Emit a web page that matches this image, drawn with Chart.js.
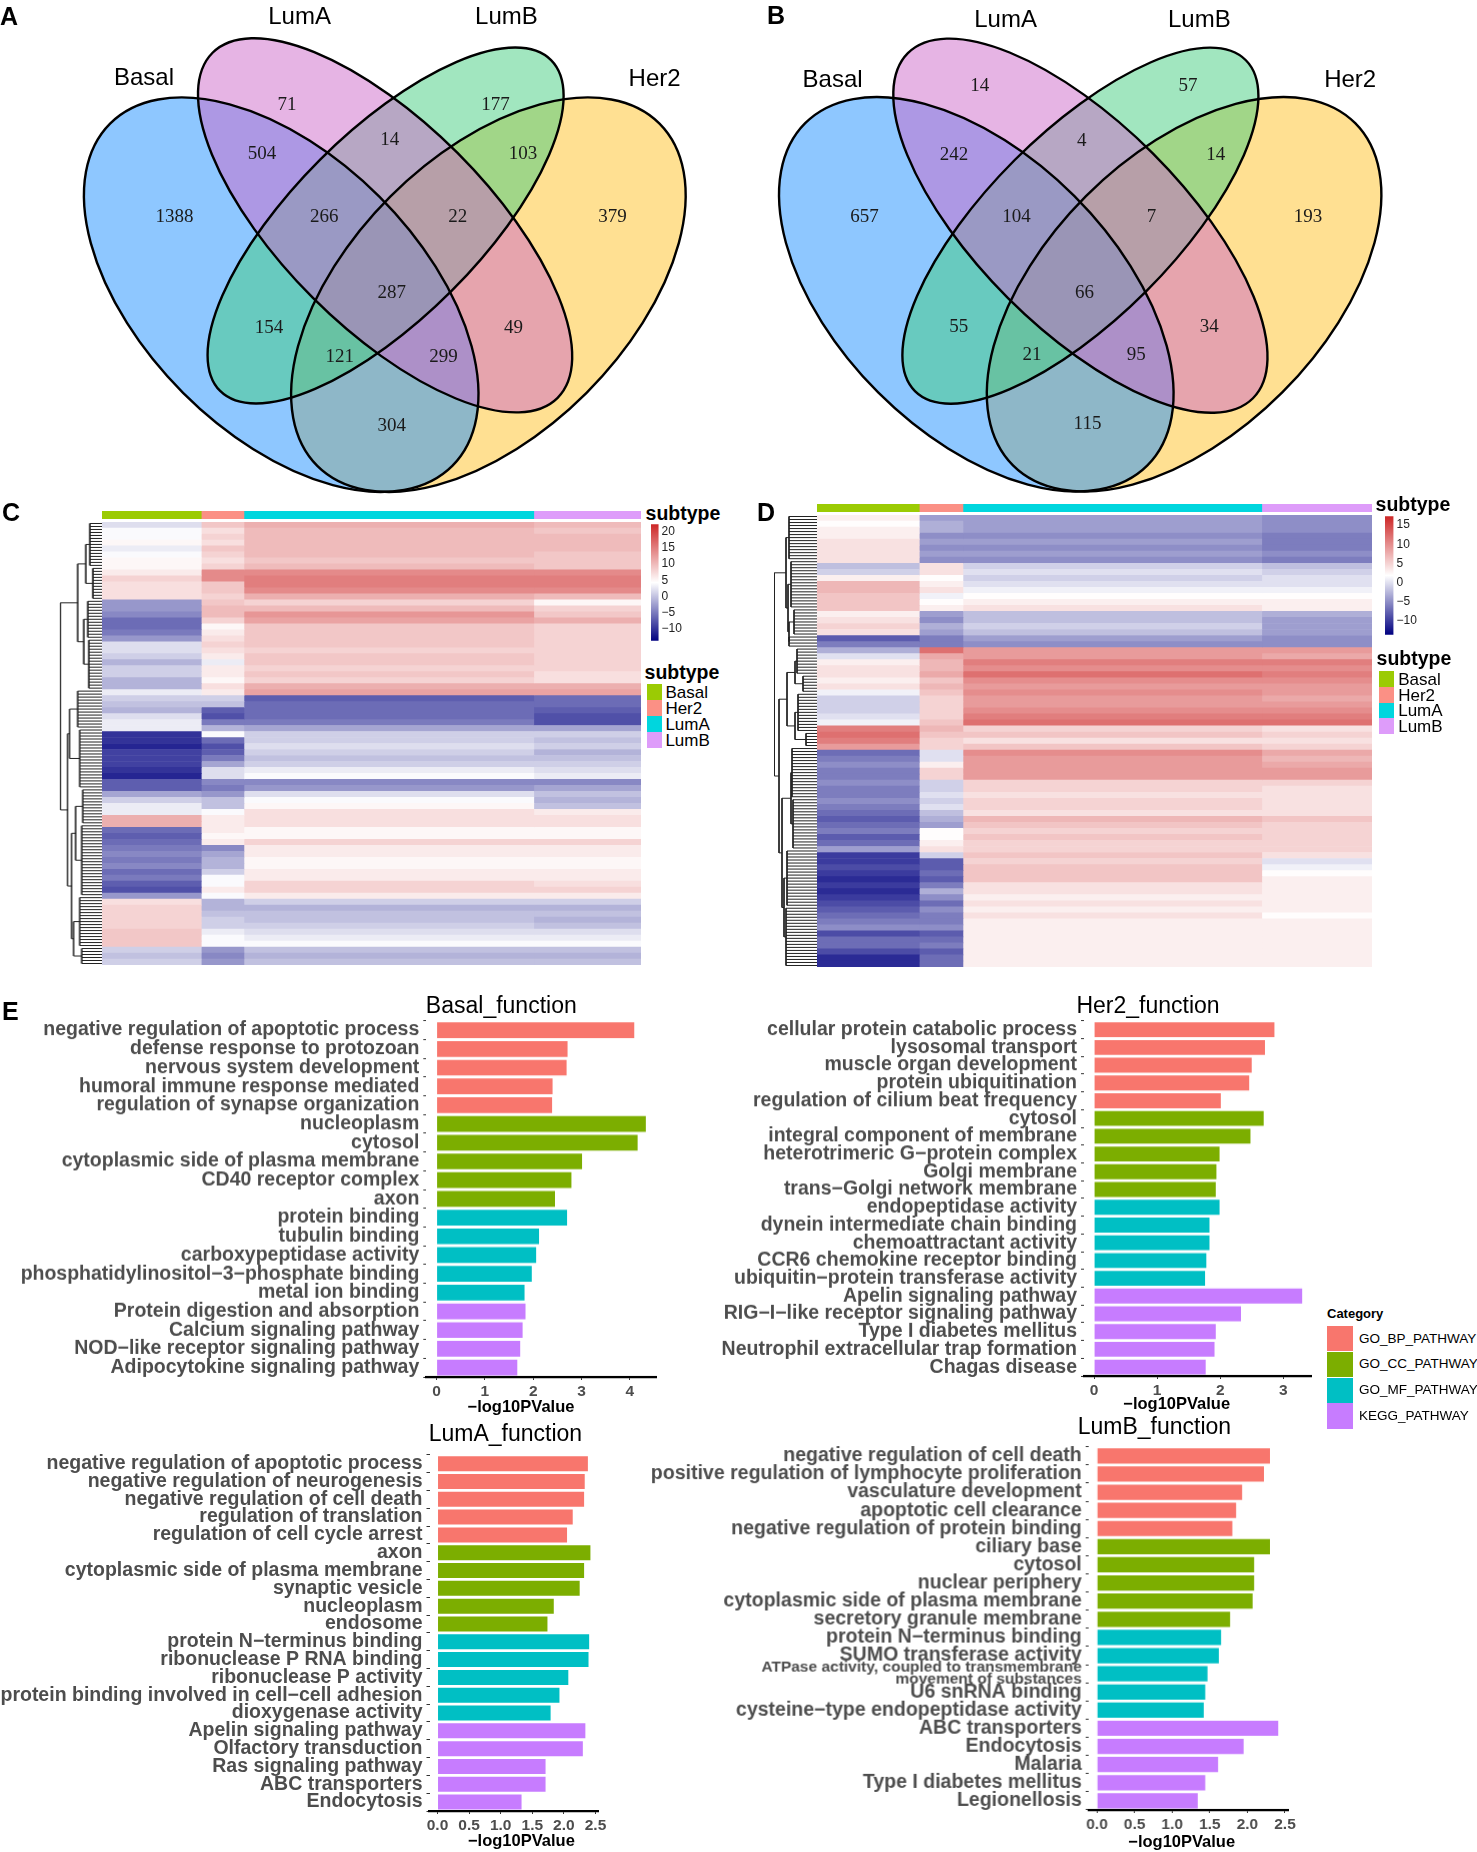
<!DOCTYPE html>
<html>
<head>
<meta charset="utf-8">
<title>Subtype venn, heatmap and function panels</title>
<script src="https://cdn.jsdelivr.net/npm/chart.js@4"></script>
<style>
  html, body { margin: 0; background: #fff; }
  #page { position: relative; width: 1477px; height: 1852px; overflow: hidden; font-family: "Liberation Sans", Arial, sans-serif; }
  #page canvas { position: absolute; }
  .txt { position: absolute; white-space: pre; line-height: 1; }
  .swatch { position: absolute; }
</style>
</head>
<body>
<div id="page"></div>
<script>
// ---- venn data
const vennSets = ['Basal', 'LumA', 'LumB', 'Her2'];
const vennA = [1388, 71, 504, 14, 177, 103, 266, 22, 379, 287, 154, 49, 121, 299, 304];
const vennB = [657, 14, 242, 4, 57, 14, 104, 7, 193, 66, 55, 34, 21, 95, 115];

// ---- heatmap data: mean expression per row band (the fine speckle is averaged out)
const samplesC = [100, 43, 292, 108];
const heatC_Basal = [2,4,4,5,3,4,5,5,6,8,7,7,7,-3,-3,-4,-6,-6,-5,-3,2,2,1,-1,1,1,-1,-1,3,1,0,-1,2,3,3,-10,-10,-11,-9,-9,-9,-10,-11,-7,-7,-2,1,3,3,11,11,-6,-7,-6,-5,-4,-5,-4,-6,-5,-7,-8,-3,7,8,8,8,8,9,9,9,1,0,1];
const heatC_Her2 = [9,7,8,7,9,8,7,8,14,14,9,9,8,9,10,10,8,5,6,7,8,7,6,3,6,6,5,7,6,1,0,-7,-8,-5,-1,4,-6,-8,-7,-5,-2,2,2,-4,-5,-3,0,0,4,6,6,6,5,6,-4,-2,-1,-1,1,4,4,6,4,-1,-1,0,1,1,3,4,4,-3,-4,-3];
const heatC_LumA = [11,10,10,10,10,10,9,10,14,15,15,14,11,8,10,13,12,9,9,9,9,8,9,9,8,9,8,11,12,-7,-6,-6,-6,-5,-2,1,1,2,1,0,1,3,4,-4,-3,2,4,5,7,7,7,5,5,8,6,6,5,5,6,6,8,8,6,1,-1,0,0,1,2,3,4,0,-1,0];
const heatC_LumB = [10,9,10,10,10,9,9,9,14,15,15,14,10,5,8,9,11,8,8,8,8,8,8,8,8,7,7,11,12,-6,-6,-7,-8,-8,-2,1,0,1,-1,0,1,2,3,-4,-2,0,-1,0,6,7,7,5,5,8,6,6,5,5,6,6,7,8,6,1,-1,0,-1,0,2,3,4,0,-1,0];

const samplesD = [103, 44, 301, 111];
const heatD_Basal = [3,2,3,3,4,4,4,4,-2,-1,3,7,7,6,6,6,3,4,5,4,-8,-6,-3,0,3,4,4,3,4,1,-1,-1,-1,0,1,11,12,11,9,-7,-6,-5,-6,-6,-5,-6,-6,-5,-6,-7,-8,-7,-6,-8,-7,-4,-10,-10,-9,-10,-11,-10,-11,-10,-9,-8,-7,-6,-5,-9,-7,-7,-9,-11,-11];
const heatD_Her2 = [-4,-3,-3,-5,-4,-5,-4,-5,4,4,2,3,4,1,2,3,-4,-5,-3,-4,-6,-6,12,8,7,7,8,6,7,6,5,5,5,5,6,7,6,5,5,0,0,3,5,5,-1,-1,0,-1,0,-2,-3,-4,2,2,3,4,-1,-8,-8,-7,-8,-6,-3,-5,-7,-5,-6,-6,-5,-8,-7,-6,-8,-7,-7];
const heatD_LumA = [-4,-4,-4,-5,-4,-5,-4,-5,-1,0,-1,0,1,2,3,4,-2,-2,-1,-2,-4,-5,9,9,11,10,12,10,9,10,9,9,10,11,12,5,6,4,6,10,9,9,9,9,5,5,4,5,5,4,7,6,5,6,5,5,6,5,6,6,6,4,4,3,4,3,4,3,3,3,3,3,3,3,3];
const heatD_LumB = [-5,-5,-5,-6,-6,-6,-5,-6,-2,-1,0,0,1,2,3,3,-3,-4,-4,-4,-5,-5,9,8,11,10,11,10,9,9,8,9,10,11,12,4,5,4,5,8,7,8,9,9,5,4,4,4,4,4,6,5,5,5,5,5,4,0,1,2,3,3,3,3,3,3,2,3,3,3,3,3,3,3,3];

const subtypes = ['Basal', 'Her2', 'LumA', 'LumB'];
const subtypeColors = ['#9BCB04', '#FB9085', '#00D6DE', '#DE9CFA'];

// colour bar ranges and ticks
const barTicksC = [-10, -5, 0, 5, 10, 15, 20];
const barTicksD = [-10, -5, 0, 5, 10, 15];

// dendrograms, [height, left, right] for a merge and [height, leaves] for a group of leaves
const treeC = [41,
  [24, [16, [12, 15], [9, 11]], [18, [14, 13], [13, 17]]],
  [34, [32, [24, 13], [22, 20]], [30, [26, [19, 12], [20, 24]], [28, [22, 17], [20, 6]]]]];
const treeD = [42.5,
  [31, [28, 15], [29, [26, 16], [28, [23, 9], [28, 4]]]],
  [38, [30, [22, [20, 9], [14, 6]], [22, [19, 13], [11, 5]]],
       [35, [26, [25, 17], [24, 17]], [33, [30, 19], [31, 20]]]]];

// ---- function panels
const categoryNames = ['GO_BP_PATHWAY', 'GO_CC_PATHWAY', 'GO_MF_PATHWAY', 'KEGG_PATHWAY'];
const categoryColors = ['#F8766D', '#7CAE00', '#00BFC4', '#C77CFF'];

const basalLabels = ['negative regulation of apoptotic process', 'defense response to protozoan', 'nervous system development', 'humoral immune response mediated', 'regulation of synapse organization', 'nucleoplasm', 'cytosol', 'cytoplasmic side of plasma membrane', 'CD40 receptor complex', 'axon', 'protein binding', 'tubulin binding', 'carboxypeptidase activity', 'phosphatidylinositol−3−phosphate binding', 'metal ion binding', 'Protein digestion and absorption', 'Calcium signaling pathway', 'NOD−like receptor signaling pathway', 'Adipocytokine signaling pathway'];
const basalValues = [4.09, 2.71, 2.69, 2.40, 2.39, 4.33, 4.16, 3.01, 2.79, 2.45, 2.70, 2.12, 2.06, 1.97, 1.82, 1.84, 1.78, 1.73, 1.67];
const basalGroups = [5, 5, 5, 4];
const basalTicks = [0, 1, 2, 3, 4];

const her2Labels = ['cellular protein catabolic process', 'lysosomal transport', 'muscle organ development', 'protein ubiquitination', 'regulation of cilium beat frequency', 'cytosol', 'integral component of membrane', 'heterotrimeric G−protein complex', 'Golgi membrane', 'trans−Golgi network membrane', 'endopeptidase activity', 'dynein intermediate chain binding', 'chemoattractant activity', 'CCR6 chemokine receptor binding', 'ubiquitin−protein transferase activity', 'Apelin signaling pathway', 'RIG−I−like receptor signaling pathway', 'Type I diabetes mellitus', 'Neutrophil extracellular trap formation', 'Chagas disease'];
const her2Values = [2.86, 2.71, 2.50, 2.46, 2.01, 2.69, 2.48, 1.99, 1.94, 1.93, 1.99, 1.83, 1.83, 1.78, 1.76, 3.30, 2.33, 1.93, 1.91, 1.77];
const her2Groups = [5, 5, 5, 5];
const her2Ticks = [0, 1, 2, 3];

const lumALabels = ['negative regulation of apoptotic process', 'negative regulation of neurogenesis', 'negative regulation of cell death', 'regulation of translation', 'regulation of cell cycle arrest', 'axon', 'cytoplasmic side of plasma membrane', 'synaptic vesicle', 'nucleoplasm', 'endosome', 'protein N−terminus binding', 'ribonuclease P RNA binding', 'ribonuclease P activity', 'protein binding involved in cell−cell adhesion', 'dioxygenase activity', 'Apelin signaling pathway', 'Olfactory transduction', 'Ras signaling pathway', 'ABC transporters', 'Endocytosis'];
const lumAValues = [2.38, 2.33, 2.32, 2.14, 2.05, 2.42, 2.32, 2.25, 1.84, 1.74, 2.40, 2.39, 2.07, 1.93, 1.79, 2.34, 2.30, 1.71, 1.71, 1.33];
const lumAGroups = [5, 5, 5, 5];
const lumATicks = [0, 0.5, 1, 1.5, 2, 2.5];

const lumBLabels = ['negative regulation of cell death', 'positive regulation of lymphocyte proliferation', 'vasculature development', 'apoptotic cell clearance', 'negative regulation of protein binding', 'ciliary base', 'cytosol', 'nuclear periphery', 'cytoplasmic side of plasma membrane', 'secretory granule membrane', 'protein N−terminus binding', 'SUMO transferase activity', ['ATPase activity, coupled to transmembrane', 'movement of substances'], 'U6 snRNA binding', 'cysteine−type endopeptidase activity', 'ABC transporters', 'Endocytosis', 'Malaria', 'Type I diabetes mellitus', 'Legionellosis'];
const lumBValues = [2.30, 2.22, 1.93, 1.85, 1.80, 2.30, 2.09, 2.09, 2.07, 1.77, 1.65, 1.62, 1.47, 1.44, 1.42, 2.41, 1.95, 1.61, 1.44, 1.34];
const lumBGroups = [5, 5, 5, 5];
const lumBTicks = [0, 0.5, 1, 1.5, 2, 2.5];

// ---- helpers
const page = document.getElementById('page');
const SANS = '"Liberation Sans", Arial, sans-serif';
Chart.defaults.animation = false;
Chart.defaults.responsive = false;
Chart.defaults.plugins.legend.display = false;
Chart.defaults.plugins.tooltip.enabled = false;
Chart.defaults.layout.padding = 0;

function addCanvas(left, top, width, height) {
  const c = document.createElement('canvas');
  c.width = width;
  c.height = height;
  c.style.left = left + 'px';
  c.style.top = top + 'px';
  c.style.width = width + 'px';
  c.style.height = height + 'px';
  page.appendChild(c);
  return c.getContext('2d');
}

function addText(text, x, y, font, align, color) {
  const d = document.createElement('div');
  d.className = 'txt';
  d.textContent = text;
  d.style.left = x + 'px';
  d.style.top = y + 'px';
  d.style.font = font;
  d.style.lineHeight = '1';
  d.style.color = color || '#000';
  const dx = align === 'center' ? '-50%' : '0';
  d.style.transform = `translate(${dx}, -50%)`;
  page.appendChild(d);
}

function addSwatch(x, y, w, h, color) {
  const d = document.createElement('div');
  d.className = 'swatch';
  d.style.cssText += `left:${x}px;top:${y}px;width:${w}px;height:${h}px;background:${color}`;
  page.appendChild(d);
}

// ---- venn panels
const vennPlugin = {
  id: 'venn',
  beforeDatasetsDraw(chart, args, opts) {
    const { ctx, scales: { x, y } } = chart;
    const path = s => {
      ctx.beginPath();
      ctx.ellipse(x.getPixelForValue(s.cx), y.getPixelForValue(s.cy), s.a, s.b, s.rot * Math.PI / 180, 0, Math.PI * 2);
    };
    opts.shapes.forEach(s => { path(s); ctx.fillStyle = s.fill; ctx.fill(); });
    ctx.strokeStyle = '#000';
    ctx.lineWidth = 2.4;
    opts.shapes.forEach(s => { path(s); ctx.stroke(); });
  },
  afterDatasetsDraw(chart) {
    const { ctx } = chart;
    ctx.textAlign = 'center';
    ctx.textBaseline = 'middle';
    chart.data.datasets.forEach((ds, i) => {
      ctx.font = ds.textFont;
      ctx.fillStyle = ds.textColor;
      chart.getDatasetMeta(i).data.forEach((pt, j) => ctx.fillText(ds.texts[j], pt.x, pt.y));
    });
  }
};

function drawVenn(left, width, shapes, counts, countX, countY, nameX, nameY) {
  new Chart(addCanvas(left, 0, width, 500), {
    type: 'scatter',
    data: {
      datasets: [
        { data: counts.map((c, i) => ({ x: countX[i], y: countY[i] })), texts: counts.map(String), pointRadius: 0, textFont: '19px "Liberation Serif", serif', textColor: '#1a1a1a' },
        { data: vennSets.map((s, i) => ({ x: nameX[i], y: nameY[i] })), texts: vennSets, pointRadius: 0, textFont: '24px ' + SANS, textColor: '#000' }
      ]
    },
    options: {
      scales: {
        x: { type: 'linear', min: 0, max: width, display: false },
        y: { type: 'linear', min: 0, max: 500, reverse: true, display: false }
      },
      plugins: { venn: { shapes } }
    },
    plugins: [vennPlugin]
  });
}

const vennFill = { Basal: 'rgba(30,144,255,0.5)', LumA: 'rgba(205,105,201,0.5)', LumB: 'rgba(67,205,128,0.5)', Her2: 'rgba(255,193,37,0.5)' };
const vennShape = (name, cx, cy, a, b, rot) => ({ cx, cy, a, b, rot, fill: vennFill[name] });

// fill order matters for the overlap colours
drawVenn(0, 740, [
  vennShape('Her2', 488.4, 294.7, 242, 138.8, -45),
  vennShape('Basal', 281.2, 294.7, 242, 138.8, 45),
  vennShape('LumB', 385.6, 225.5, 234, 92.9, -45),
  vennShape('LumA', 385.1, 225.3, 244, 102.4, 45)
], vennA,
  [174.6, 286.9, 261.9, 389.8, 495.5, 522.9, 324.2, 457.7, 612.5, 391.7, 269, 513.4, 339.8, 443.6, 391.7],
  [216.7, 105.3, 154.3, 139.7, 105.3, 154.3, 216.7, 216.7, 216.7, 293.3, 328.3, 328.3, 356.7, 356.7, 426],
  [144, 299.6, 506.4, 654.6], [78.2, 17.5, 17.5, 79.8]);

drawVenn(740, 737, [
  vennShape('Her2', 444.1, 294.3, 242, 138.8, -45),
  vennShape('Basal', 236.3, 294.3, 242, 138.8, 45),
  vennShape('LumB', 340.4, 225.7, 234, 92.9, -45),
  vennShape('LumA', 340.4, 225.7, 244, 102.4, 45)
], vennB,
  [124.6, 239.8, 213.9, 341.8, 448.1, 475.8, 276.5, 411.4, 567.9, 344.6, 218.7, 469.2, 291.9, 396.3, 347.5],
  [217, 86, 155, 141, 86, 155, 217, 217, 217, 293.3, 327, 327, 355.3, 355.3, 423.7],
  [92.6, 265.6, 459.3, 610.2], [80.3, 20.3, 20.3, 80.3]);

// ---- heatmaps, native stacked horizontal bars, one bar per row band
function heatColor(v, mid, low, high) {
  const t = v >= mid ? (v - mid) / (high - mid) : (mid - v) / (mid - low);
  const to = v >= mid ? [205, 38, 38] : [0, 0, 128];
  const c = to.map(k => Math.round(255 + (k - 255) * Math.min(t, 1)));
  return `rgb(${c[0]},${c[1]},${c[2]})`;
}

function stackedRows(ctx, rowLabels, datasets, total) {
  new Chart(ctx, {
    type: 'bar',
    data: { labels: rowLabels, datasets },
    options: {
      indexAxis: 'y',
      datasets: { bar: { barPercentage: 1, categoryPercentage: 1, borderWidth: 0 } },
      scales: {
        x: { stacked: true, min: 0, max: total, display: false },
        y: { stacked: true, display: false }
      }
    }
  });
}

function drawHeatmap(left, top, width, height, samples, columns, range) {
  const total = samples.reduce((a, b) => a + b, 0);
  const datasets = subtypes.map((name, i) => ({
    label: name,
    data: columns[i].map(() => samples[i]),
    backgroundColor: columns[i].map(v => heatColor(v, range.mid, range.low, range.high))
  }));
  stackedRows(addCanvas(left, top, width, height), columns[0].map((_, i) => i), datasets, total);
}

function drawAnnotation(left, top, width, height, samples) {
  const total = samples.reduce((a, b) => a + b, 0);
  const datasets = subtypes.map((name, i) => ({ label: name, data: [samples[i]], backgroundColor: subtypeColors[i] }));
  stackedRows(addCanvas(left, top, width, height), ['subtype'], datasets, total);
}

function drawColorBar(left, top, width, barWidth, height, ticks, range) {
  // room above and below so the tick labels do not push the plot area in
  const room = 10;
  new Chart(addCanvas(left, top - room, width, height + room * 2), {
    type: 'bar',
    data: {
      labels: ['scale'],
      datasets: [{
        data: [[range.low, range.high]],
        barPercentage: 1,
        categoryPercentage: 1,
        backgroundColor(c) {
          const area = c.chart.chartArea;
          if (!area) return '#fff';
          const g = c.chart.ctx.createLinearGradient(0, area.top, 0, area.bottom);
          g.addColorStop(0, 'rgb(205,38,38)');
          g.addColorStop(0.5, '#fff');
          g.addColorStop(1, 'rgb(0,0,128)');
          return g;
        }
      }]
    },
    options: {
      layout: { padding: { top: room, bottom: room } },
      scales: {
        x: { display: false },
        y: {
          position: 'right', min: range.low, max: range.high,
          afterBuildTicks: s => { s.ticks = ticks.map(value => ({ value })); },
          afterFit: s => { s.width = width - barWidth; },
          grid: { display: false, drawTicks: false },
          border: { display: false },
          ticks: { autoSkip: false, font: { size: 12, family: SANS }, color: '#222', padding: 3, callback: v => String(v).replace('-', '−') }
        }
      }
    }
  });
}

function drawDendro(left, top, width, height, tree, rows) {
  const pts = [];
  const seg = (x1, y1, x2, y2) => pts.push({ x: x1, y: y1 }, { x: x2, y: y2 }, { x: NaN, y: NaN });
  let row = 0;
  const walk = node => {
    if (typeof node[1] === 'number') {
      const start = row;
      for (let i = 0; i < node[1]; i++) { seg(0, row + 0.5, node[0], row + 0.5); row++; }
      seg(node[0], start + 0.5, node[0], row - 0.5);
      return { h: node[0], y: (start + row) / 2 };
    }
    const a = walk(node[1]);
    const b = walk(node[2]);
    seg(a.h, a.y, node[0], a.y);
    seg(b.h, b.y, node[0], b.y);
    seg(node[0], a.y, node[0], b.y);
    return { h: node[0], y: (a.y + b.y) / 2 };
  };
  walk(tree);
  new Chart(addCanvas(left, top, width, height), {
    type: 'scatter',
    data: { datasets: [{ data: pts, showLine: true, spanGaps: false, pointRadius: 0, borderColor: '#222', borderWidth: 1 }] },
    options: {
      scales: {
        x: { type: 'linear', min: 0, max: width, reverse: true, display: false },
        y: { type: 'linear', min: 0, max: rows, reverse: true, display: false }
      }
    }
  });
}

function subtypeLegend(titleX, titleY, swX, swW, swTop, swH, textX) {
  addText('subtype', titleX, titleY, 'bold 19.5px ' + SANS);
  subtypes.forEach((s, i) => {
    addSwatch(swX, swTop + i * swH, swW, swH, subtypeColors[i]);
    addText(s, textX, swTop + (i + 0.5) * swH, '17px ' + SANS);
  });
}

// panel C
const rangeC = { low: -13.6, mid: 4.35, high: 22.3 };
drawDendro(55, 522, 46.5, 443, treeC, 148);
drawAnnotation(101.5, 511, 539.4, 8, samplesC);
drawHeatmap(101.5, 522, 539.4, 443, samplesC, [heatC_Basal, heatC_Her2, heatC_LumA, heatC_LumB], rangeC);
addText('subtype', 645.6, 513.5, 'bold 19.5px ' + SANS);
drawColorBar(651.2, 524, 32, 7.6, 117, barTicksC, rangeC);
subtypeLegend(644.6, 673, 646.5, 15.5, 684.3, 15.9, 665.4);

// panel D
const rangeD = { low: -13.6, mid: 1.85, high: 17.3 };
drawDendro(769.6, 515, 47, 452, treeD, 150);
drawAnnotation(816.6, 504, 555.7, 8, samplesD);
drawHeatmap(816.6, 515, 555.7, 452, samplesD, [heatD_Basal, heatD_Her2, heatD_LumA, heatD_LumB], rangeD);
addText('subtype', 1375.6, 505, 'bold 19.5px ' + SANS);
drawColorBar(1385, 516, 34, 8.5, 119, barTicksD, rangeD);
subtypeLegend(1376.6, 659, 1379.4, 15, 671, 15.75, 1398.2);

// ---- function bars
function groupColors(groups) {
  return groups.flatMap((n, g) => Array(n).fill(categoryColors[g]));
}

function drawBars(cfg) {
  const canvasBottom = cfg.axisY + 25;
  // room around the plot, the scales push the plot area in when their labels do not fit
  const topRoom = 12;
  const rightRoom = 14;
  const ctx = addCanvas(cfg.canvasLeft, cfg.plotTop - topRoom, cfg.plotRight - cfg.canvasLeft + rightRoom, canvasBottom - cfg.plotTop + topRoom);
  new Chart(ctx, {
    type: 'bar',
    data: {
      labels: cfg.labels,
      datasets: [{ data: cfg.values, backgroundColor: groupColors(cfg.groups), barPercentage: 0.84, categoryPercentage: 1 }]
    },
    options: {
      indexAxis: 'y',
      layout: { padding: { right: rightRoom, top: topRoom } },
      scales: {
        x: {
          type: 'linear', min: cfg.xMin, max: cfg.xMax,
          afterBuildTicks: s => { s.ticks = cfg.ticks.map(value => ({ value })); },
          afterFit: s => { s.height = canvasBottom - cfg.axisY; },
          grid: { drawOnChartArea: false, tickLength: 3, color: '#333' },
          border: { color: '#000', width: 2.2 },
          ticks: { autoSkip: false, maxRotation: 0, padding: 2, color: '#4d4d4d', font: { size: 15.5, family: SANS, weight: 'bold' }, callback: cfg.tickFormat }
        },
        y: {
          afterFit: s => { s.width = cfg.plotLeft - cfg.canvasLeft; },
          grid: { drawOnChartArea: false, tickLength: 3, color: '#333' },
          border: { display: false },
          ticks: {
            autoSkip: false, padding: 4, color: '#4d4d4d',
            // the two line label is squeezed into one row
            font: c => Array.isArray(cfg.labels[c.index])
              ? { size: 15.5, family: SANS, weight: 'bold', lineHeight: 0.78 }
              : { size: 19.5, family: SANS, weight: 'bold', lineHeight: 1 }
          }
        }
      }
    }
  });
  addText(cfg.title, cfg.titleX, cfg.titleY, '23px ' + SANS, 'center');
  addText('−log10PValue', cfg.axisTitleX, cfg.axisTitleY, 'bold 16.5px ' + SANS, 'center');
}

const wholeTicks = v => String(v);
const halfTicks = v => v.toFixed(1);

drawBars({ title: 'Basal_function', titleX: 501.3, titleY: 1005, axisTitleX: 521, axisTitleY: 1405.7,
  labels: basalLabels, values: basalValues, groups: basalGroups, ticks: basalTicks, tickFormat: wholeTicks,
  canvasLeft: 0, plotLeft: 426.3, plotRight: 656.3, plotTop: 1019.3, axisY: 1377, xMin: -0.213, xMax: 4.54 });

drawBars({ title: 'Her2_function', titleX: 1148, titleY: 1005, axisTitleX: 1176.7, axisTitleY: 1403,
  labels: her2Labels, values: her2Values, groups: her2Groups, ticks: her2Ticks, tickFormat: wholeTicks,
  canvasLeft: 700, plotLeft: 1084, plotRight: 1311, plotTop: 1019.2, axisY: 1375.7, xMin: -0.16, xMax: 3.44 });

drawBars({ title: 'LumA_function', titleX: 505.4, titleY: 1433, axisTitleX: 521.4, axisTitleY: 1840,
  labels: lumALabels, values: lumAValues, groups: lumAGroups, ticks: lumATicks, tickFormat: halfTicks,
  canvasLeft: 0, plotLeft: 429.5, plotRight: 598, plotTop: 1452.8, axisY: 1811, xMin: -0.127, xMax: 2.54 });

drawBars({ title: 'LumB_function', titleX: 1154.4, titleY: 1425.7, axisTitleX: 1181.7, axisTitleY: 1841,
  labels: lumBLabels, values: lumBValues, groups: lumBGroups, ticks: lumBTicks, tickFormat: halfTicks,
  canvasLeft: 620, plotLeft: 1088, plotRight: 1287.7, plotTop: 1445.3, axisY: 1810, xMin: -0.11, xMax: 2.54 });

// category legend
addText('Category', 1327, 1312.7, 'bold 13px ' + SANS);
categoryNames.forEach((n, i) => {
  addSwatch(1327.3, 1326 + i * 25.8, 25.3, 25.3, categoryColors[i]);
  addText(n, 1359, 1338.5 + i * 25.8, '13.5px ' + SANS);
});

// panel letters
addText('A', 0, 16, 'bold 25px ' + SANS);
addText('B', 767, 15, 'bold 25px ' + SANS);
addText('C', 2, 512, 'bold 25px ' + SANS);
addText('D', 757, 512, 'bold 25px ' + SANS);
addText('E', 2, 1011, 'bold 25px ' + SANS);
</script>
</body>
</html>
